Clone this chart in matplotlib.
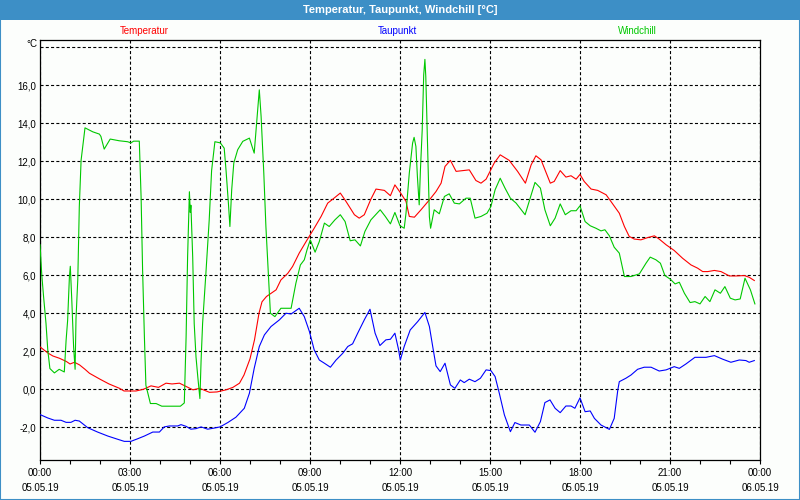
import matplotlib
matplotlib.use('Agg')
import matplotlib.pyplot as plt
from matplotlib.patches import Rectangle
from matplotlib.ticker import MultipleLocator

plt.rcParams['font.family'] = ['Liberation Sans', 'DejaVu Sans']
plt.rcParams['lines.scale_dashes'] = False

# ---- data (hours since 05.05.19 00:00) ----
temp_t = [0.0, 0.27, 0.43, 0.65, 0.88, 1.0, 1.15, 1.32, 1.5, 1.65, 2.0, 2.3, 2.65, 2.8, 3.2, 3.45,
          3.7, 3.95, 4.2, 4.4, 4.65, 4.88, 5.1, 5.32, 5.65, 5.9, 6.2, 6.43, 6.65, 6.8, 7.0, 7.15,
          7.3, 7.4, 7.55, 7.87, 8.03, 8.26, 8.42, 8.64, 8.87, 9.14, 9.37, 9.59, 9.76, 10.01, 10.2,
          10.48, 10.64, 10.81, 11.03, 11.2, 11.48, 11.68, 11.83, 12.03, 12.2, 12.31, 12.48, 12.7,
          12.98, 13.2, 13.37, 13.5, 13.68, 13.87, 14.09, 14.31, 14.53, 14.7, 14.87, 15.14, 15.34,
          15.64, 15.92, 16.18, 16.37, 16.53, 16.7, 17.01, 17.14, 17.34, 17.53, 17.7, 17.87, 18.0,
          18.14, 18.37, 18.59, 18.87, 19.03, 19.31, 19.48, 19.64, 19.81, 20.03, 20.26, 20.48,
          20.64, 20.87, 21.14, 21.42, 21.7, 21.92, 22.09, 22.26, 22.48, 22.7, 22.98, 23.2, 23.48,
          23.64, 23.81]
temp_v = [2.23, 1.9, 1.75, 1.63, 1.46, 1.33, 1.42, 1.28, 1.05, 0.84, 0.53, 0.28, 0.05, -0.09, -0.09,
          0.0, 0.18, 0.1, 0.32, 0.28, 0.32, 0.14, -0.03, 0.05, -0.16, -0.14, -0.03, 0.1, 0.32, 0.75,
          1.6, 2.6, 4.0, 4.6, 4.88, 5.23, 5.75, 6.1, 6.46, 7.16, 7.77, 8.47, 9.09, 9.79, 10.0, 10.32,
          9.88, 9.18, 9.0, 9.18, 10.0, 10.53, 10.46, 10.18, 10.75, 10.3, 9.88, 9.09, 9.05, 9.44,
          9.96, 10.4, 10.84, 11.72, 12.04, 11.46, 11.5, 11.54, 10.98, 10.84, 11.05, 11.9, 12.33,
          12.04, 11.46, 10.84, 11.8, 12.28, 12.07, 10.84, 10.93, 11.5, 11.16, 11.23, 11.05, 11.3,
          10.93, 10.53, 10.46, 10.23, 9.88, 9.26, 8.56, 8.04, 7.9, 7.86, 7.98, 8.07, 7.9, 7.6, 7.3,
          6.89, 6.54, 6.37, 6.19, 6.19, 6.25, 6.19, 5.96, 5.96, 5.98, 5.89, 5.72]

dew_t = [0.0, 0.26, 0.48, 0.7, 0.87, 1.03, 1.17, 1.31, 1.59, 1.92, 2.26, 2.59, 2.81, 3.03, 3.26, 3.48,
         3.76, 3.98, 4.14, 4.31, 4.59, 4.7, 4.87, 5.03, 5.2, 5.37, 5.59, 5.81, 6.0, 6.26, 6.53, 6.81,
         6.98, 7.14, 7.31, 7.48, 7.7, 7.98, 8.2, 8.37, 8.64, 8.81, 8.98, 9.14, 9.31, 9.48, 9.68,
         9.87, 10.09, 10.26, 10.42, 10.59, 10.81, 11.0, 11.17, 11.33, 11.53, 11.68, 11.83, 11.95,
         12.01, 12.14, 12.34, 12.59, 12.83, 12.98, 13.09, 13.2, 13.34, 13.5, 13.68, 13.83, 14.01,
         14.14, 14.31, 14.5, 14.68, 14.87, 15.03, 15.17, 15.31, 15.48, 15.68, 15.83, 16.03, 16.31,
         16.5, 16.68, 16.83, 17.0, 17.17, 17.34, 17.53, 17.7, 17.83, 18.0, 18.17, 18.34, 18.48,
         18.7, 18.98, 19.14, 19.26, 19.31, 19.53, 19.7, 19.92, 20.14, 20.37, 20.64, 20.87, 21.14,
         21.31, 21.53, 21.83, 22.2, 22.48, 22.76, 23.03, 23.31, 23.53, 23.64, 23.81]
dew_v = [-1.33, -1.51, -1.63, -1.63, -1.74, -1.74, -1.63, -1.67, -2.02, -2.25, -2.46, -2.63, -2.74,
         -2.74, -2.6, -2.46, -2.25, -2.25, -1.98, -1.93, -1.93, -1.86, -1.95, -2.1, -2.07, -1.98,
         -2.1, -2.04, -1.98, -1.75, -1.47, -1.0, -0.21, 1.1, 2.25, 2.86, 3.3, 3.65, 4.0, 3.96, 4.26,
         3.82, 3.04, 2.07, 1.54, 1.37, 1.16, 1.54, 1.89, 2.25, 2.39, 2.95, 3.65, 4.21, 2.95, 2.3,
         2.6, 2.63, 2.95, 2.1, 1.54, 2.25, 3.12, 3.56, 4.04, 3.3, 2.25, 1.23, 0.93, 1.37, 0.23,
         0.05, 0.49, 0.35, 0.53, 0.4, 0.58, 1.02, 0.98, 0.67, -0.21, -1.35, -2.23, -1.75, -1.88,
         -1.88, -2.26, -1.7, -0.7, -0.56, -1.0, -1.23, -0.88, -0.88, -1.0, -0.45, -1.18, -1.14,
         -1.53, -1.88, -2.11, -1.53, -0.04, 0.4, 0.58, 0.75, 1.05, 1.16, 1.16, 0.96, 1.02, 1.19,
         1.1, 1.33, 1.68, 1.68, 1.77, 1.58, 1.42, 1.54, 1.51, 1.42, 1.51]

wind_t = [0.0, 0.06, 0.12, 0.2, 0.26, 0.33, 0.48, 0.64, 0.81, 0.87, 0.92, 0.98, 1.01, 1.06, 1.12,
          1.17, 1.2, 1.26, 1.31, 1.37, 1.5, 1.76, 1.98, 2.03, 2.14, 2.34, 2.64, 2.92, 3.03, 3.12,
          3.31, 3.37, 3.42, 3.48, 3.53, 3.68, 3.87, 4.06, 4.37, 4.68, 4.81, 4.87, 4.92, 4.98, 5.01,
          5.03, 5.09, 5.14, 5.2, 5.26, 5.33, 5.37, 5.42, 5.53, 5.64, 5.72, 5.83, 6.01, 6.14, 6.2,
          6.28, 6.33, 6.39, 6.46, 6.59, 6.76, 6.98, 7.14, 7.23, 7.31, 7.37, 7.46, 7.53, 7.61, 7.68,
          7.83, 8.03, 8.2, 8.37, 8.53, 8.68, 8.81, 8.9, 9.01, 9.17, 9.31, 9.48, 9.64, 9.83, 10.01,
          10.17, 10.34, 10.5, 10.68, 10.83, 11.03, 11.34, 11.51, 11.68, 11.83, 12.0, 12.14, 12.2,
          12.31, 12.42, 12.47, 12.53, 12.58, 12.64, 12.68, 12.74, 12.79, 12.83, 12.86, 12.9, 12.94,
          12.98, 13.02, 13.14, 13.31, 13.48, 13.64, 13.81, 13.98, 14.2, 14.34, 14.5, 14.7, 14.9,
          15.03, 15.17, 15.34, 15.5, 15.68, 15.87, 16.17, 16.34, 16.5, 16.68, 16.83, 17.01, 17.17,
          17.34, 17.51, 17.7, 17.87, 18.0, 18.17, 18.34, 18.53, 18.7, 18.83, 18.98, 19.14, 19.31,
          19.48, 19.7, 19.98, 20.2, 20.34, 20.53, 20.68, 20.83, 21.01, 21.17, 21.31, 21.48, 21.67,
          21.83, 22.0, 22.17, 22.33, 22.5, 22.68, 22.83, 23.01, 23.17, 23.34, 23.5, 23.68, 23.83]
wind_v = [7.6, 6.0, 4.86, 3.46, 2.05, 1.09, 0.86, 1.05, 0.91, 2.58, 3.6, 5.9, 6.47, 4.68, 2.23,
          1.05, 3.7, 5.8, 9.6, 12.05, 13.75, 13.54, 13.42, 13.3, 12.63, 13.16, 13.07, 13.02, 12.96,
          13.05, 13.05, 10.1, 6.26, 2.75, 0.21, -0.75, -0.75, -0.89, -0.89, -0.89, -0.72, 2.75,
          6.96, 10.39, 9.3, 9.68, 6.96, 3.46, 1.7, 0.65, -0.49, 1.53, 3.46, 6.1, 8.9, 11.5, 13.02,
          12.96, 12.68, 11.54, 9.79, 8.56, 10.49, 11.9, 12.6, 13.04, 13.21, 12.42, 14.18, 15.75,
          14.35, 11.37, 8.56, 6.1, 4.0, 3.82, 4.26, 4.26, 4.26, 5.58, 6.54, 6.81, 7.33, 7.86, 7.21,
          7.77, 8.74, 8.56, 8.91, 9.18, 8.82, 7.81, 7.86, 7.54, 8.3, 8.91, 9.44, 9.09, 8.7, 9.3,
          8.6, 8.47, 9.26, 11.37, 12.95, 13.25, 12.77, 11.19, 9.7, 11.5, 13.63, 16.53, 17.35,
          16.44, 13.98, 11.53, 9.07, 8.47, 9.44, 9.23, 10.14, 10.28, 9.79, 9.75, 10.05, 10.05, 9.0,
          9.09, 9.26, 9.61, 10.49, 11.1, 10.58, 10.05, 9.79, 9.18, 10.05, 10.88, 10.58, 9.44, 8.6,
          9.0, 9.75, 9.18, 9.39, 9.39, 9.65, 8.82, 8.6, 8.47, 8.33, 8.39, 8.07, 7.47, 7.16, 5.93,
          5.93, 6.07, 6.63, 6.95, 6.81, 6.63, 5.98, 5.79, 5.54, 5.63, 5.05, 4.56, 4.61, 4.49, 4.88,
          4.61, 5.23, 5.05, 5.4, 4.79, 4.7, 4.75, 5.84, 5.23, 4.49]

series_names = ['Temperatur', 'Taupunkt', 'Windchill']
x_ticks = [0, 3, 6, 9, 12, 15, 18, 21, 24]
x_labels = ['00:00\n05.05.19', '03:00\n05.05.19', '06:00\n05.05.19', '09:00\n05.05.19',
            '12:00\n05.05.19', '15:00\n05.05.19', '18:00\n05.05.19', '21:00\n05.05.19',
            '00:00\n06.05.19']
y_ticks = [-2, 0, 2, 4, 6, 8, 10, 12, 14, 16, 18]
y_labels = ['-2,0', '0,0', '2,0', '4,0', '6,0', '8,0', '10,0', '12,0', '14,0', '16,0', '']
title = 'Temperatur, Taupunkt, Windchill [°C]'

# ---- style ----
W, H = 800, 500
BAR = '#3d8fc6'
RED, BLUE, GREEN = '#ff0000', '#0000ff', '#00c800'

fig = plt.figure(figsize=(8, 5), dpi=100, facecolor='#fcfefc')
ax = fig.add_axes([40 / W, 1 - 460 / H, 720 / W, 420 / H])
ax.set_facecolor('#fcfefc')

ax.plot(temp_t, temp_v, color=RED, lw=0.8, zorder=3)
ax.plot(dew_t, dew_v, color=BLUE, lw=0.8, zorder=3)
ax.plot(wind_t, wind_v, color=GREEN, lw=0.8, zorder=3)

ax.set_xlim(0, 24)
ax.set_ylim(-3.72, 18.37)
ax.set_xticks(x_ticks)
ax.set_xticklabels(x_labels, fontsize=7, linespacing=1.6)
ax.xaxis.set_minor_locator(MultipleLocator(1))
ax.tick_params(axis='x', which='both', direction='out', length=3, width=0.8, pad=3)
ax.set_yticks(y_ticks)
ax.set_yticklabels(y_labels, fontsize=7)
ax.tick_params(axis='y', length=0, pad=3)
for lab in ax.get_xticklabels() + ax.get_yticklabels():
    lab.set_color('#000000')

ax.grid(True, which='major', color='black', lw=0.8, linestyle=(0, (2.2, 1.6)), zorder=1)
for s in ax.spines.values():
    s.set_linewidth(0.9)
    s.set_color('black')

# title bar
fig.patches.append(Rectangle((0, 1 - 20 / H), 1, 20 / H, transform=fig.transFigure,
                             facecolor=BAR, edgecolor='none', zorder=0))
fig.text(0.5, 1 - 10 / H, title, color='white', fontsize=8, fontweight='bold',
         ha='center', va='center')
fig.patches.append(Rectangle((0, 0), 1, 1, transform=fig.transFigure, fill=False,
                             edgecolor=BAR, lw=1.5, zorder=5))

# legend labels
for name, col, xc in zip(series_names, [RED, BLUE, GREEN], [144, 397, 637]):
    fig.text(xc / W, 1 - 31 / H, name, color=col, fontsize=7, ha='center', va='center')

fig.text(37 / W, 1 - 44 / H, '°C', fontsize=7, ha='right', va='center')

fig.savefig('out.png', dpi=100, facecolor=fig.get_facecolor())
